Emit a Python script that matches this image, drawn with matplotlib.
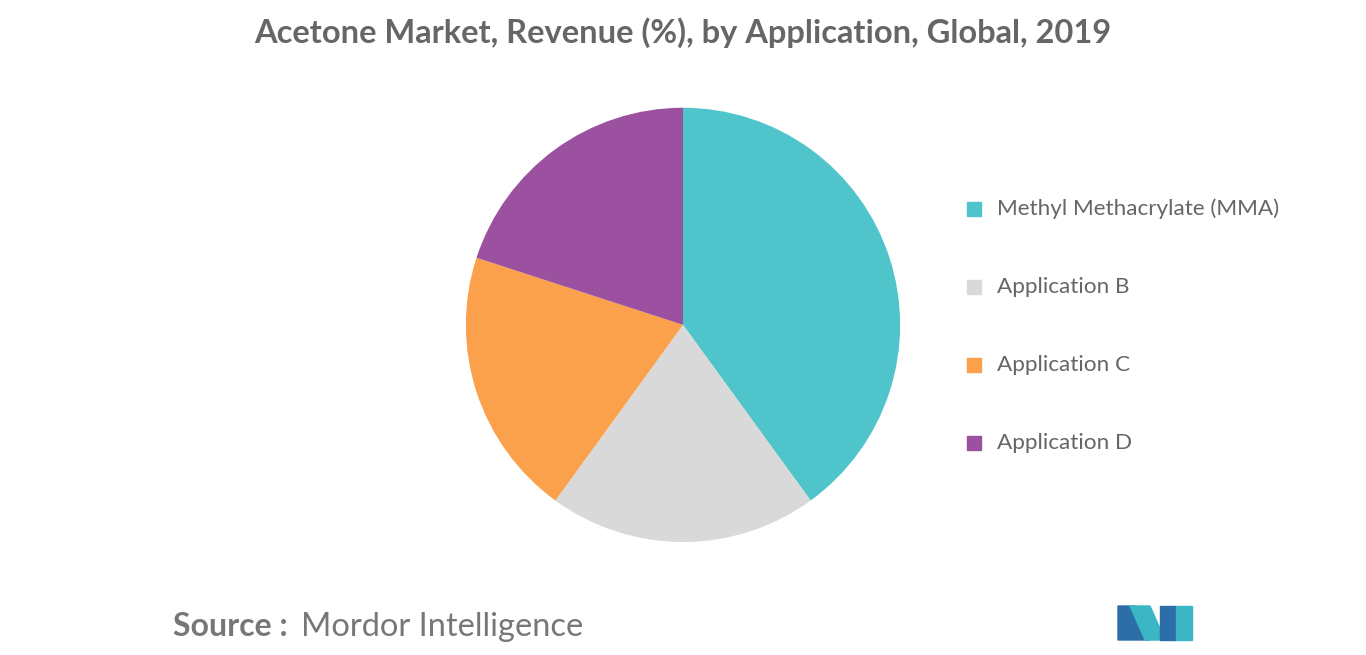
import matplotlib
matplotlib.use("Agg")
import matplotlib.pyplot as plt
from matplotlib.patches import Rectangle, Polygon

labels = ["Methyl Methacrylate (MMA)", "Application B", "Application C", "Application D"]
shares = [40, 20, 20, 20]
colors = ["#4FC4CB", "#D9D9D9", "#FBA14B", "#9B51A0"]

fig = plt.figure(figsize=(13.66, 6.55), dpi=100)

# pie, starting at 12 o'clock and going clockwise
ax = fig.add_axes([0.5 - 0.159, 0.504 - 0.3315, 0.318, 0.663])
ax.pie(shares, colors=colors, startangle=90, counterclock=False, radius=1)
ax.set_xlim(-1, 1)
ax.set_ylim(-1, 1)
ax.set_aspect("equal")

fig.text(683 / 1366, 0.95, "Acetone Market, Revenue (%), by Application, Global, 2019",
         ha="center", va="center", fontsize=23.5, fontweight="bold",
         color="#666666", family="Lato")

# legend drawn by hand to match spacing
for i, (lab, col) in enumerate(zip(labels, colors)):
    y = 1 - (209 + 78 * i) / 655
    fig.patches.append(Rectangle((967 / 1366, y - 7 / 655), 14 / 1366, 14 / 655,
                                 color=col, transform=fig.transFigure))
    fig.text(997 / 1366, y, lab, ha="left", va="center", fontsize=16.2,
             color="#666666", family="Lato")

fig.text(173 / 1366, 1 - 627 / 655, "Source :", ha="left", va="center",
         fontsize=23, fontweight="bold", color="#777777", family="Lato")
fig.text(301 / 1366, 1 - 627 / 655, "Mordor Intelligence", ha="left", va="center",
         fontsize=23.5, color="#777777", family="Lato")

# simple logo
def px(pts):
    return [(x / 1366, 1 - y / 655) for x, y in pts]

logo = [
    ([(1118, 640), (1118, 606), (1135, 606), (1150, 640)], "#2B6EA8"),
    ([(1130, 606), (1150, 606), (1165, 640), (1145, 640)], "#3BB6C4"),
    ([(1160, 640), (1160, 606), (1176, 606), (1176, 640)], "#2B6EA8"),
    ([(1176, 606), (1192, 606), (1192, 640), (1176, 640)], "#3BB6C4"),
]
for pts, col in logo:
    fig.patches.append(Polygon(px(pts), closed=True, color=col, transform=fig.transFigure))

fig.savefig("out.png", dpi=100, facecolor="white")
